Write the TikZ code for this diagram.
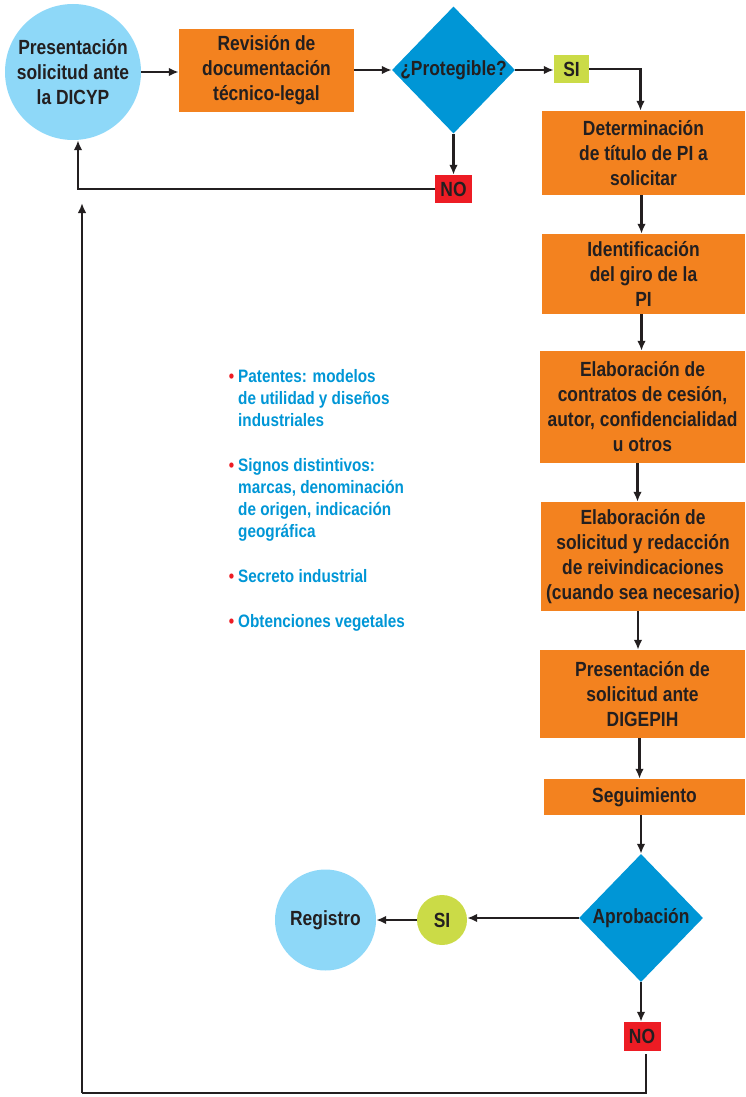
\documentclass[tikz,border=0pt]{standalone}
\usepackage{fontspec}
\setmainfont{Liberation Sans}[FakeStretch=0.85]
\usetikzlibrary{shapes.geometric,arrows.meta}
\definecolor{orangebox}{HTML}{F3821F}
\definecolor{lightblue}{HTML}{8ED8F8}
\definecolor{diablue}{HTML}{0096D6}
\definecolor{sigreen}{HTML}{CBDB47}
\definecolor{nored}{HTML}{ED1C24}
\definecolor{ink}{HTML}{231F20}
\begin{document}
\begin{tikzpicture}[x=1pt,y=-1pt,
  every node/.style={inner sep=0pt, text=ink, font=\fontsize{20.5}{25}\selectfont\bfseries, align=center},
  procbox/.style={rectangle, fill=orangebox},
  startcirc/.style={circle, fill=lightblue},
  decision/.style={diamond, fill=diablue},
  yesbox/.style={rectangle, fill=sigreen, minimum width=35pt, minimum height=28pt},
  nobox/.style={rectangle, fill=nored, minimum width=37pt, minimum height=28pt},
  arr/.style={draw=ink, line width=2.6pt, -{Latex[length=10pt,width=8.5pt]}},
  ln/.style={draw=ink, line width=2.6pt}
]
\useasboundingbox (0,0) rectangle (746,1097);
% nodes
\node[startcirc, minimum size=136pt] (pres) at (73,72) {Presentación\\solicitud ante\\la DICYP};
\node[procbox, minimum width=175pt, minimum height=83pt] (rev) at (266.5,70.5) {Revisión de\\documentación\\técnico-legal};
\node[decision, minimum width=123pt, minimum height=127pt] (prot) at (453.5,70) {\makebox[0pt]{¿Protegible?}};
\node[yesbox] (si1) at (571.5,69) {SI};
\node[nobox] (no1) at (453.5,189) {NO};
\node[procbox, minimum width=203pt, minimum height=84pt] (det) at (643.5,153) {Determinación\\de título de PI a\\solicitar};
\node[procbox, minimum width=203pt, minimum height=80pt] (ident) at (643.5,274) {Identificación\\del giro de la\\PI};
\node[procbox, minimum width=205pt, minimum height=112pt] (contr) at (642.5,407) {Elaboración de\\contratos de cesión,\\autor, confidencialidad\\u otros};
\node[procbox, minimum width=204pt, minimum height=109pt] (solic) at (643,556.5) {Elaboración de\\solicitud y redacción\\de reivindicaciones\\(cuando sea necesario)};
\node[procbox, minimum width=205pt, minimum height=88pt] (digep) at (642.5,694) {Presentación de\\solicitud ante\\DIGEPIH};
\node[procbox, minimum width=201pt, minimum height=36pt] (seg) at (644.5,797) {Seguimiento};
\node[decision, minimum width=124pt, minimum height=128pt] (aprob) at (641,918) {\makebox[0pt]{Aprobación}};
\node[circle, fill=sigreen, minimum size=50pt] (si2) at (442,920) {SI};
\node[startcirc, minimum size=101pt] (reg) at (325.5,920) {Registro};
\node[nobox, minimum height=29pt] (no2) at (642,1036.5) {NO};
\node[anchor=north west, align=left, text=diablue, font=\fontsize{18}{22}\selectfont\bfseries] (list) at (238,369)
 {\llap{\textcolor{nored}{•}\hspace{4pt}}Patentes: modelos\\de utilidad y diseños\\industriales\\[23pt]
  \llap{\textcolor{nored}{•}\hspace{4pt}}Signos distintivos:\\marcas, denominación\\de origen, indicación\\geográfica\\[23pt]
  \llap{\textcolor{nored}{•}\hspace{4pt}}Secreto industrial\\[23pt]
  \llap{\textcolor{nored}{•}\hspace{4pt}}Obtenciones vegetales};
\coordinate (lc) at (82,1093);
\coordinate (loopend) at (82,203);
% connectors
\draw[arr] (pres.east) -- (rev.west |- pres.east);
\draw[arr] (rev.east |- prot.west) -- (prot.west);
\draw[arr] (prot.east) -- (si1.west |- prot.east);
\draw[arr] (si1.east) -| ([xshift=-3pt]det.north);
\draw[arr] (prot.south) -- (no1.north);
\draw[arr] (no1.west) -| ([xshift=5pt]pres.south);
\draw[arr] ([xshift=-2pt]det.south) -- ([xshift=-2pt]ident.north);
\draw[arr] ([xshift=-2pt]ident.south) -- ([xshift=-2pt]ident.south |- contr.north);
\draw[arr] ([xshift=-5pt]contr.south) -- ([xshift=-5pt]contr.south |- solic.north);
\draw[arr] ([xshift=-5pt]solic.south) -- ([xshift=-5pt]solic.south |- digep.north);
\draw[arr] ([xshift=-3pt]digep.south) -- ([xshift=-3pt]digep.south |- seg.north);
\draw[arr] (aprob.north |- seg.south) -- (aprob.north);
\draw[arr] (aprob.west) -- (si2.east |- aprob.west);
\draw[arr] (si2.west) -- (reg.east);
\draw[arr] (aprob.south) -- (aprob.south |- no2.north);
\draw[ln] ([xshift=4pt, yshift=-3pt]no2.south) |- (lc);
\draw[arr] (lc) -- (loopend);
\end{tikzpicture}
\end{document}
